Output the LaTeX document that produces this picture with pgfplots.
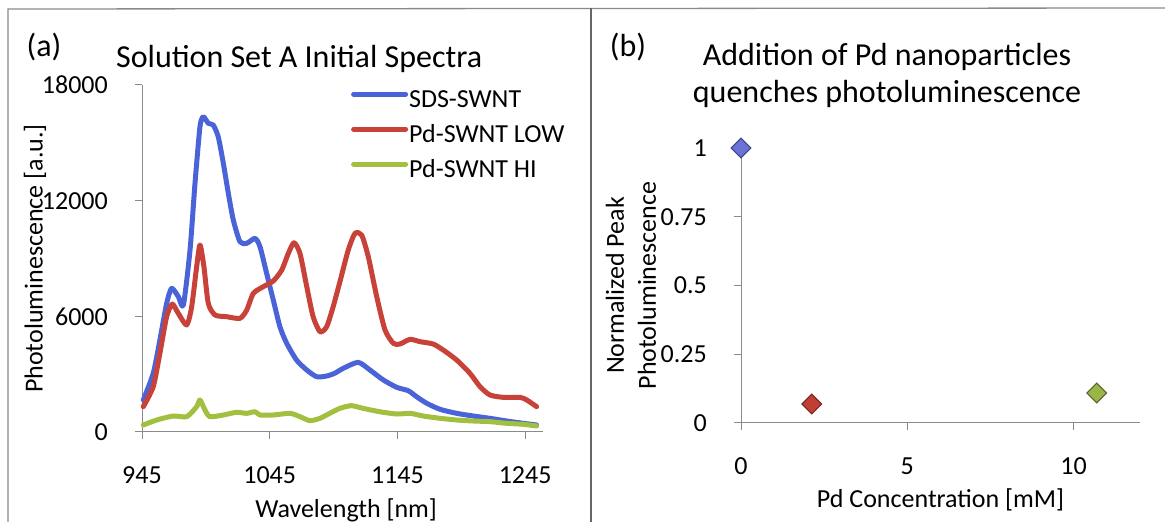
\documentclass[border=0pt]{standalone}
\usepackage{fontspec}
\setmainfont{Carlito}
\usepackage{pgfplots}
\pgfplotsset{compat=1.18}
\definecolor{cblue}{HTML}{4A64D8}
\definecolor{cred}{HTML}{C8423A}
\definecolor{cgreen}{HTML}{A2C03F}
\definecolor{axgray}{HTML}{8A8A8A}
\definecolor{mblue}{HTML}{6A72D8}
\definecolor{mred}{HTML}{C23E35}
\definecolor{mgreen}{HTML}{9AB548}
\newcommand{\fs}{\fontsize{26}{31}\selectfont}
\newcommand{\ft}{\fontsize{32}{37}\selectfont}
\begin{document}
\begin{tikzpicture}[x=1pt,y=1pt]
\useasboundingbox (0,0) rectangle (1165,522);
\draw[axgray, line width=1.3pt] (8,-5) -- (8,513) -- (1170,514);
\draw[gray!80!black, line width=1.6pt] (591,-5) -- (591,514);
\pgfplotsset{
  myax/.style={
    scale only axis,
    anchor=south west,
    axis x line*=bottom, axis y line*=left,
    axis line style={draw=axgray, line width=1pt},
    tick style={draw=axgray, line width=1pt},
    major tick length=7pt, tick align=outside,
    tick label style={font=\fs},
    /pgf/number format/assume math mode=true,
    /pgf/number format/1000 sep={},
    scaled ticks=false,
    xticklabel style={anchor=center, yshift=-36pt},
    yticklabel style={anchor=east, inner sep=0pt, xshift=-27pt},
    label style={font=\fs},
    clip=false,
  },
  curve/.style={line width=5pt, line join=round, line cap=round, smooth, tension=0.4},
}
\begin{axis}[myax,
  at={(142pt,90pt)}, width=401pt, height=347pt,
  xmin=945, xmax=1259, ymin=0, ymax=18000,
  xtick={945,1045,1145,1245}, ytick={0,6000,12000,18000},
  xlabel={Wavelength [nm]},
  xlabel style={at={(axis description cs:0.509,-0.225)}, anchor=center},
  ylabel={Photoluminescence [a.u.]},
  ylabel style={at={(axis description cs:-0.267,0.5)}, anchor=center},
  title={Solution Set A Initial Spectra},
  title style={at={(axis description cs:0.392,1.058)}, anchor=center, font=\ft},
  legend style={at={(axis description cs:0.521,0.99)}, anchor=north west,
    draw=none, fill=none, inner sep=0pt, font=\fs, row sep=10pt,
    nodes={inner sep=1pt, text height=18pt, text depth=5pt}},
  legend cell align=left,
  legend image code/.code={\draw[#1, line width=5pt, line cap=round] (0pt,7pt) -- (52pt,7pt);},
]
\addplot[cblue, curve] coordinates {
(946,1660) (953.8,3044) (959,4770) (964.3,6674) (968.2,7452) (973.5,7017)
(977.4,6586) (982.6,9438) (986.5,12897) (990.4,15833) (993,16352) (997,16010)
(1000.8,15921) (1004.7,15314) (1008.7,13934) (1012.6,12379) (1016.5,10994)
(1021.7,9869) (1027,9786) (1033.5,10045) (1037.4,9610) (1042.6,8230)
(1047.8,6845) (1053,5461) (1058.3,4600) (1066,3734) (1074,3215) (1081.8,2868)
(1089.6,2904) (1096,3050) (1102.6,3304) (1114.3,3613) (1123.5,3215) (1134,2697)
(1144.5,2316) (1153.5,2142) (1160,1831) (1168,1487) (1178.4,1176) (1191.4,968)
(1204.4,830) (1217.5,710) (1230.6,570) (1243.6,450) (1254,363)
};
\addlegendentry{SDS-SWNT}
\addplot[cred, curve] coordinates {
(946,1314) (953.8,2350) (959,4080) (964.3,5980) (968.7,6638) (973.4,6156)
(980,5549) (983.9,6500) (987.8,8573) (990.4,9698) (993.5,8573) (996.9,6674)
(1002.2,6068) (1011.3,5980) (1021.7,5896) (1027,6327) (1032.2,7193) (1040,7539)
(1047.8,7832) (1054.4,8400) (1059.6,9266) (1064,9817) (1068.7,9266) (1074,7539)
(1079,5980) (1084.4,5200) (1089.6,5461) (1094.7,6500) (1100,7800) (1106.5,9438)
(1111.8,10303) (1117,10216) (1122.2,9092) (1128.8,7017) (1135.3,5290)
(1141.8,4600) (1147,4564) (1154.9,4807) (1162.7,4686) (1173,4564) (1180.9,4252)
(1191.4,3734) (1201.8,3044) (1209.7,2350) (1217.5,1919) (1228,1797) (1241,1797)
(1246.3,1660) (1254,1314)
};
\addlegendentry{Pd-SWNT LOW}
\addplot[cgreen, curve] coordinates {
(946,363) (956.5,622) (969.5,830) (980,795) (987.8,1314) (990.4,1660)
(994.3,1141) (998.2,795) (1008.7,882) (1019,1020) (1027,968) (1033.5,1053)
(1037.4,882) (1047.8,882) (1060.8,968) (1068.7,795) (1076.5,588) (1084.4,710)
(1092,968) (1100,1228) (1109,1366) (1118,1228) (1131,1053) (1144.5,933)
(1155,968) (1165,830) (1178.4,710) (1191.4,622) (1204.4,570) (1217.5,536)
(1230.6,450) (1243.6,400) (1254,311)
};
\addlegendentry{Pd-SWNT HI}
\end{axis}
\node[font=\ft] at (44,475) {(a)};
\begin{axis}[myax,
  at={(741pt,99pt)}, width=399pt, height=275pt,
  xmin=0, xmax=12, ymin=0, ymax=1,
  xtick={0,5,10}, ytick={0,0.25,0.5,0.75,1},
  xlabel={Pd Concentration [mM]},
  xlabel style={at={(axis description cs:0.5,-0.28)}, anchor=center},
  ylabel={Normalized Peak\\Photoluminescence},
  ylabel style={at={(axis description cs:-0.276,0.5)}, anchor=center, align=center, font=\fontsize{26}{32}\selectfont},
  title={Addition of Pd nanoparticles\\quenches photoluminescence},
  title style={at={(axis description cs:0.366,1.242)}, anchor=center, align=center, font=\ft},
]
\addplot[only marks, mark=square*, mark size=7pt, mark options={rotate=45, fill=mblue, draw=mblue!60!black, line width=1pt}] coordinates {(0,1)};
\addplot[only marks, mark=square*, mark size=7pt, mark options={rotate=45, fill=mred, draw=mred!60!black, line width=1pt}] coordinates {(2.13,0.069)};
\addplot[only marks, mark=square*, mark size=7pt, mark options={rotate=45, fill=mgreen, draw=mgreen!55!black, line width=1pt}] coordinates {(10.7,0.109)};
\end{axis}
\node[font=\ft] at (628,475) {(b)};
\end{tikzpicture}
\end{document}
